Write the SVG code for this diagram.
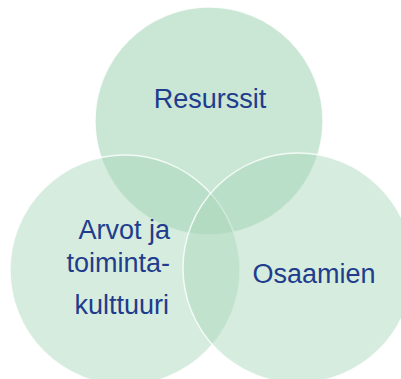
<svg xmlns="http://www.w3.org/2000/svg" width="401" height="379" viewBox="0 0 401 379">
<style>
.c{stroke:#ffffff;stroke-width:1.5;stroke-opacity:0.8}
.t{font-family:"Liberation Sans",Arial,sans-serif;font-size:27px;fill:#213c8c}
</style>
<rect width="401" height="379" fill="#ffffff"/>
<g id="resurssit">
<circle class="c" cx="209" cy="121" r="114" fill="#9fd3b2" fill-opacity="0.55"/>
</g>
<g id="arvot">
<circle class="c" cx="125" cy="270" r="115" fill="#aad7ba" fill-opacity="0.48"/>
</g>
<g id="osaamien">
<circle class="c" cx="298" cy="268" r="115" fill="#aad7ba" fill-opacity="0.48"/>
</g>
<g id="labels">
<text class="t" x="210" y="108" text-anchor="middle">Resurssit</text>
<text class="t" x="170" y="239" text-anchor="end">Arvot ja</text>
<text class="t" x="170" y="272" text-anchor="end">toiminta-</text>
<text class="t" x="169" y="314" text-anchor="end">kulttuuri</text>
<text class="t" x="314" y="283" text-anchor="middle">Osaamien</text>
</g>
<g id="connectors"/>
</svg>
